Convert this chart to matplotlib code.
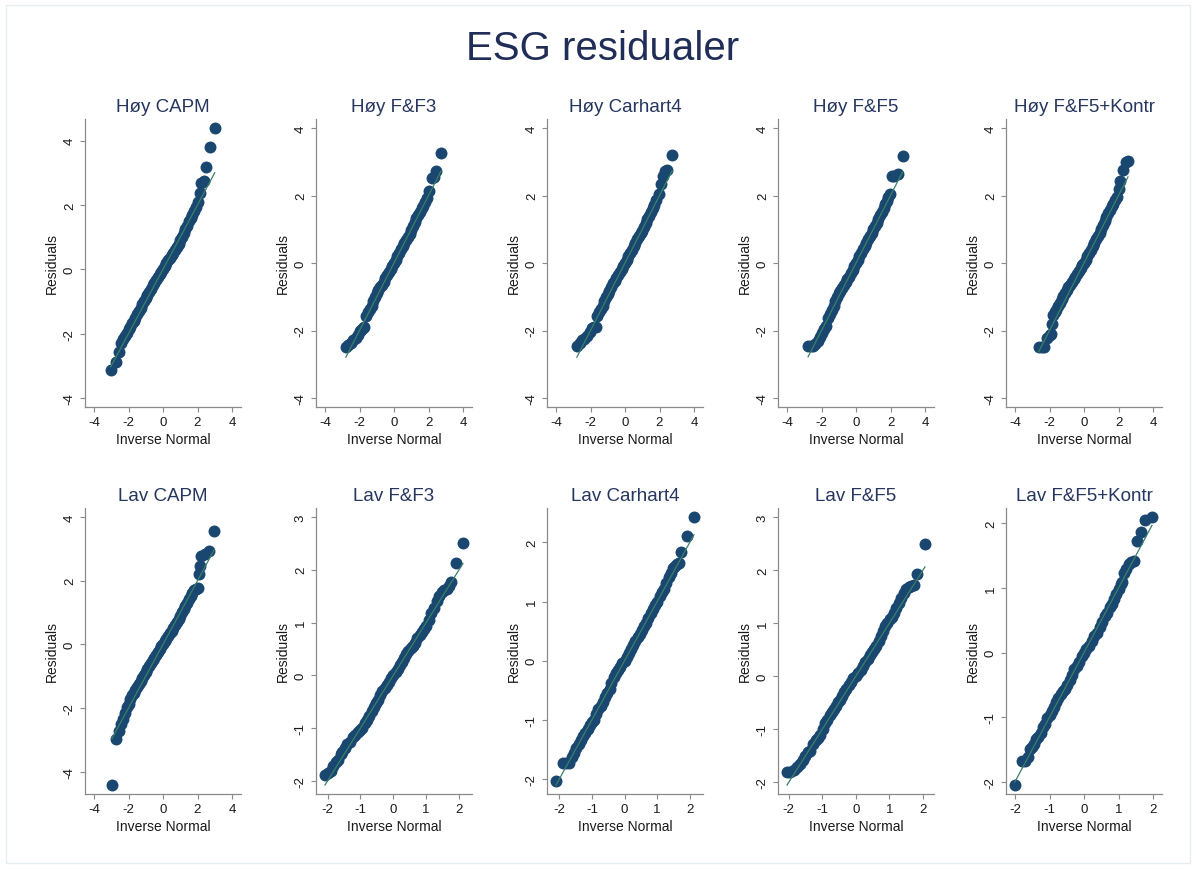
import matplotlib
matplotlib.use("Agg")
import matplotlib.pyplot as plt
from matplotlib.patches import Rectangle

plt.rcParams['font.family'] = ['Liberation Sans', 'DejaVu Sans']
plt.rcParams['axes.unicode_minus'] = False

main_title = "ESG residualer"
titles = ["Høy CAPM", "Høy F&F3", "Høy Carhart4", "Høy F&F5", "Høy F&F5+Kontr",
          "Lav CAPM", "Lav F&F3", "Lav Carhart4", "Lav F&F5", "Lav F&F5+Kontr"]

# inverse normal (x) and residuals (y)
hoy_capm_x = [-3.03, -2.71, -2.57, -2.42,
              -2.3, -2.2, -2.1, -2.0, -1.9, -1.8, -1.7, -1.6, -1.5, -1.4, -1.3, -1.2,
              -1.1, -1.0, -0.9, -0.8, -0.7, -0.6, -0.5, -0.4, -0.3, -0.2, -0.1,
              0.0, 0.1, 0.2, 0.3, 0.4, 0.5, 0.6, 0.7, 0.8, 0.9, 1.0, 1.1, 1.2, 1.3,
              1.4, 1.5, 1.6, 1.7, 1.8,
              1.93, 2.05, 2.13, 2.18, 2.36, 2.51, 2.71, 3.0]
hoy_capm_y = [-3.12, -2.88, -2.57, -2.28,
              -2.18, -2.08, -1.98, -1.86, -1.78, -1.68, -1.6, -1.5, -1.4, -1.3, -1.2, -1.08,
              -0.98, -0.88, -0.8, -0.7, -0.6, -0.5, -0.42, -0.34, -0.25, -0.15, -0.07,
              0.02, 0.1, 0.2, 0.28, 0.36, 0.43, 0.5, 0.6, 0.68, 0.8, 0.9, 1.0, 1.12, 1.24,
              1.36, 1.5, 1.6, 1.7, 1.8,
              1.94, 2.1, 2.38, 2.67, 2.75, 3.18, 3.79, 4.39]

hoy_ff3_x = [-2.79, -2.65, -2.5, -2.35, -2.2, -2.1, -2.0, -1.9, -1.8, -1.72, -1.62,
             -1.5, -1.4, -1.3, -1.2, -1.1, -1.0, -0.9, -0.8, -0.7, -0.6, -0.5, -0.4,
             -0.3, -0.2, -0.1,
             0.0, 0.1, 0.2, 0.3, 0.4, 0.5, 0.6, 0.7, 0.8, 0.9, 1.0, 1.1, 1.2, 1.3,
             1.4, 1.5, 1.6, 1.7, 1.8,
             1.89, 2.03, 2.19, 2.3, 2.44, 2.73]
hoy_ff3_y = [-2.49, -2.42, -2.36, -2.28, -2.21, -2.12, -2.02, -1.98, -1.92, -1.9, -1.57,
             -1.45, -1.35, -1.26, -1.14, -1.02, -0.9, -0.8, -0.72, -0.66, -0.55, -0.45, -0.36,
             -0.28, -0.18, -0.08,
             0.0, 0.1, 0.2, 0.3, 0.42, 0.5, 0.6, 0.68, 0.78, 0.86, 0.98, 1.1, 1.22, 1.32,
             1.42, 1.52, 1.62, 1.7, 1.8,
             1.92, 2.12, 2.51, 2.55, 2.74, 3.27]

hoy_car4_x = [-2.79, -2.62, -2.48, -2.35, -2.2, -2.05, -1.89, -1.78, -1.66, -1.6,
              -1.5, -1.4, -1.3, -1.2, -1.1, -1.0, -0.9, -0.8, -0.7, -0.6, -0.5, -0.4,
              -0.3, -0.2, -0.1,
              0.0, 0.1, 0.2, 0.3, 0.4, 0.5, 0.6, 0.7, 0.8, 0.9, 1.0, 1.1, 1.2, 1.3,
              1.4, 1.5, 1.6, 1.7, 1.8,
              1.95, 2.09, 2.2, 2.32, 2.44, 2.73]
hoy_car4_y = [-2.46, -2.36, -2.28, -2.24, -2.17, -2.05, -1.92, -1.9, -1.89, -1.57,
              -1.45, -1.36, -1.26, -1.14, -1.02, -0.92, -0.82, -0.72, -0.6, -0.52, -0.44, -0.36,
              -0.27, -0.18, -0.08,
              0.0, 0.1, 0.2, 0.3, 0.4, 0.51, 0.6, 0.7, 0.8, 0.88, 0.96, 1.08, 1.2, 1.3,
              1.4, 1.52, 1.62, 1.72, 1.86,
              2.05, 2.34, 2.59, 2.72, 2.77, 3.19]

hoy_ff5_x = [-2.78, -2.62, -2.49, -2.35, -2.2, -2.1, -2.0, -1.86, -1.72, -1.62,
             -1.5, -1.4, -1.3, -1.2, -1.1, -1.0, -0.9, -0.8, -0.7, -0.6, -0.5, -0.4,
             -0.3, -0.2, -0.1,
             0.0, 0.1, 0.2, 0.3, 0.4, 0.5, 0.6, 0.7, 0.8, 0.9, 1.0, 1.1, 1.2, 1.3,
             1.4, 1.5, 1.6, 1.7,
             1.77, 1.87, 1.97, 2.06, 2.2, 2.45, 2.7]
hoy_ff5_y = [-2.46, -2.46, -2.46, -2.4, -2.31, -2.2, -2.07, -1.95, -1.87, -1.62,
             -1.5, -1.38, -1.28, -1.14, -1.02, -0.9, -0.82, -0.74, -0.66, -0.56, -0.48, -0.4,
             -0.3, -0.2, -0.1,
             0.0, 0.1, 0.2, 0.3, 0.42, 0.51, 0.6, 0.7, 0.8, 0.9, 1.0, 1.1, 1.2, 1.3,
             1.42, 1.52, 1.62, 1.74,
             1.85, 1.95, 2.05, 2.57, 2.59, 2.64, 3.17]

hoy_ff5k_x = [-2.63, -2.45, -2.29, -2.15, -2.0, -1.9, -1.87, -1.81,
              -1.7, -1.6, -1.5, -1.4, -1.3, -1.2, -1.1, -1.0, -0.9, -0.8, -0.7, -0.6,
              -0.5, -0.4, -0.3, -0.2, -0.1,
              0.0, 0.1, 0.2, 0.3, 0.4, 0.5, 0.6, 0.7, 0.8, 0.9, 1.0, 1.1, 1.2, 1.3,
              1.4, 1.5, 1.6, 1.7, 1.8,
              1.9, 2.0, 2.1, 2.27, 2.45, 2.55]
hoy_ff5k_y = [-2.48, -2.48, -2.48, -2.21, -2.14, -2.11, -1.82, -1.55,
              -1.45, -1.38, -1.28, -1.18, -1.08, -0.98, -0.9, -0.8, -0.7, -0.64, -0.56, -0.48,
              -0.4, -0.32, -0.24, -0.16, -0.06,
              0.0, 0.1, 0.2, 0.3, 0.4, 0.51, 0.6, 0.7, 0.8, 0.9, 1.0, 1.12, 1.24, 1.36,
              1.48, 1.58, 1.68, 1.76, 1.86,
              1.95, 2.19, 2.44, 2.77, 3.0, 3.01]

lav_capm_x = [-2.96, -2.71, -2.57, -2.42, -2.3, -2.2,
              -2.1, -2.0, -1.9, -1.8, -1.7, -1.6, -1.5, -1.4, -1.3, -1.2, -1.1, -1.0,
              -0.9, -0.8, -0.7, -0.6, -0.5, -0.4, -0.3, -0.2, -0.1,
              0.0, 0.1, 0.2, 0.3, 0.4, 0.5, 0.6, 0.7, 0.8, 0.9, 1.0, 1.1, 1.2, 1.3,
              1.4, 1.5, 1.6, 1.7, 1.8,
              1.9, 2.0, 2.06, 2.13, 2.22, 2.42, 2.67, 2.96]
lav_capm_y = [-4.42, -2.98, -2.71, -2.5, -2.35, -2.15,
              -1.98, -1.86, -1.72, -1.6, -1.52, -1.42, -1.34, -1.26, -1.16, -1.06, -0.96, -0.88,
              -0.78, -0.68, -0.6, -0.5, -0.42, -0.32, -0.24, -0.14, -0.06,
              0.02, 0.1, 0.18, 0.26, 0.34, 0.42, 0.5, 0.6, 0.7, 0.8, 0.9, 1.0, 1.1, 1.2,
              1.3, 1.42, 1.52, 1.62, 1.72,
              1.74, 1.78, 2.2, 2.46, 2.78, 2.83, 2.93, 3.55]

lav_ff3_x = [-2.08, -1.98, -1.91, -1.84, -1.76, -1.68, -1.6, -1.55, -1.48, -1.4,
             -1.32, -1.24, -1.16, -1.08, -1.0, -0.94, -0.87, -0.8, -0.73, -0.66,
             -0.6, -0.53, -0.46, -0.4, -0.33, -0.26, -0.2, -0.13, -0.07,
             0.0, 0.07, 0.13, 0.2, 0.26, 0.33, 0.4, 0.46, 0.53, 0.6, 0.66,
             0.73, 0.8, 0.87, 0.94, 1.0, 1.08, 1.16, 1.24, 1.32, 1.4,
             1.48, 1.55, 1.62, 1.7, 1.77, 1.92, 2.12]
lav_ff3_y = [-1.89, -1.85, -1.81, -1.72, -1.65, -1.6, -1.5, -1.46, -1.38, -1.3,
             -1.26, -1.17, -1.14, -1.08, -1.04, -1.0, -0.9, -0.84, -0.78, -0.68,
             -0.6, -0.53, -0.46, -0.38, -0.3, -0.24, -0.18, -0.12, -0.06,
             0.0, 0.06, 0.12, 0.2, 0.26, 0.32, 0.4, 0.46, 0.52, 0.56, 0.62,
             0.7, 0.76, 0.82, 0.88, 0.94, 1.04, 1.18, 1.28, 1.4, 1.5,
             1.58, 1.62, 1.64, 1.7, 1.76, 2.12, 2.51]

lav_car4_x = [-2.1, -1.9, -1.8, -1.69, -1.62, -1.55, -1.48, -1.41, -1.34, -1.27,
              -1.2, -1.13, -1.06, -1.0, -0.93, -0.86, -0.8, -0.73, -0.66, -0.6,
              -0.53, -0.46, -0.4, -0.33, -0.26, -0.2, -0.13, -0.07,
              0.0, 0.07, 0.13, 0.2, 0.26, 0.33, 0.4, 0.46, 0.53, 0.6, 0.66,
              0.73, 0.8, 0.87, 0.93, 1.0, 1.08, 1.15, 1.22, 1.28, 1.35, 1.41,
              1.48, 1.54, 1.6, 1.67, 1.73, 1.92, 2.13]
lav_car4_y = [-2.04, -1.72, -1.72, -1.72, -1.62, -1.56, -1.48, -1.4, -1.34, -1.28,
              -1.22, -1.16, -1.08, -1.04, -1.0, -0.9, -0.82, -0.76, -0.7, -0.62,
              -0.55, -0.48, -0.38, -0.28, -0.2, -0.16, -0.1, -0.04,
              0.0, 0.07, 0.13, 0.2, 0.26, 0.33, 0.4, 0.45, 0.52, 0.58, 0.64,
              0.72, 0.8, 0.87, 0.94, 1.0, 1.1, 1.16, 1.22, 1.32, 1.42, 1.49,
              1.56, 1.61, 1.64, 1.66, 1.84, 2.11, 2.43]

lav_ff5_x = [-2.05, -1.95, -1.85, -1.75, -1.66, -1.58, -1.5, -1.43, -1.36, -1.28,
             -1.2, -1.13, -1.06, -0.98, -0.91, -0.85, -0.78, -0.71, -0.65, -0.59,
             -0.53, -0.46, -0.4, -0.34, -0.28, -0.21, -0.14, -0.07,
             0.0, 0.07, 0.14, 0.21, 0.28, 0.35, 0.42, 0.48, 0.55, 0.61, 0.68,
             0.74, 0.81, 0.88, 0.94, 1.01, 1.08, 1.14, 1.21, 1.28, 1.35, 1.42,
             1.5, 1.57, 1.65, 1.74, 1.83, 2.06]
lav_ff5_y = [-1.8, -1.8, -1.77, -1.72, -1.66, -1.58, -1.5, -1.42, -1.4, -1.28,
             -1.2, -1.16, -1.1, -1.0, -0.88, -0.82, -0.74, -0.68, -0.62, -0.56,
             -0.49, -0.44, -0.38, -0.3, -0.24, -0.16, -0.1, -0.04,
             0.0, 0.06, 0.12, 0.2, 0.26, 0.32, 0.4, 0.46, 0.52, 0.57, 0.66,
             0.76, 0.86, 0.94, 1.0, 1.07, 1.12, 1.2, 1.29, 1.38, 1.48, 1.56,
             1.65, 1.68, 1.7, 1.72, 1.92, 2.49]

lav_ff5k_x = [-2.0, -1.8, -1.71, -1.63, -1.57, -1.5, -1.44, -1.38, -1.32, -1.25,
              -1.19, -1.13, -1.06, -0.99, -0.93, -0.86, -0.8, -0.74, -0.68, -0.62,
              -0.56, -0.49, -0.42, -0.35, -0.28, -0.21, -0.14, -0.07,
              0.0, 0.07, 0.15, 0.22, 0.3, 0.39, 0.46, 0.53, 0.6, 0.68, 0.74,
              0.8, 0.87, 0.93, 1.0, 1.06, 1.11, 1.16, 1.23, 1.3, 1.37, 1.44,
              1.54, 1.64, 1.78, 1.97]
lav_ff5k_y = [-2.05, -1.68, -1.68, -1.62, -1.5, -1.46, -1.42, -1.34, -1.3, -1.24,
              -1.15, -1.1, -1.02, -0.97, -0.9, -0.84, -0.77, -0.7, -0.64, -0.6,
              -0.56, -0.5, -0.42, -0.34, -0.25, -0.2, -0.14, -0.06,
              0.0, 0.06, 0.11, 0.18, 0.26, 0.31, 0.4, 0.48, 0.56, 0.62, 0.7,
              0.76, 0.83, 0.9, 0.98, 1.06, 1.1, 1.24, 1.3, 1.37, 1.4, 1.42,
              1.73, 1.87, 2.05, 2.1]

xs = [hoy_capm_x, hoy_ff3_x, hoy_car4_x, hoy_ff5_x, hoy_ff5k_x,
      lav_capm_x, lav_ff3_x, lav_car4_x, lav_ff5_x, lav_ff5k_x]
ys = [hoy_capm_y, hoy_ff3_y, hoy_car4_y, hoy_ff5_y, hoy_ff5k_y,
      lav_capm_y, lav_ff3_y, lav_car4_y, lav_ff5_y, lav_ff5k_y]

wide_ticks = [-4, -2, 0, 2, 4]
narrow_ticks = [-2, -1, 0, 1, 2]
x_ticks = [wide_ticks] * 6 + [narrow_ticks] * 4
y_ticks = [wide_ticks] * 6 + [[-2, -1, 0, 1, 2, 3], [-2, -1, 0, 1, 2],
                              [-2, -1, 0, 1, 2, 3], [-2, -1, 0, 1, 2]]

navy = '#1a476f'
line_green = '#3a8069'
text_navy = '#26365e'
axis_grey = '#8a8a8a'

W, H = 1196, 870
fig = plt.figure(figsize=(W / 100, H / 100), dpi=100)
fig.patch.set_facecolor('white')
fig.add_artist(Rectangle((6 / W, 6 / H), 1 - 12 / W, 1 - 12 / H, transform=fig.transFigure,
                         fill=False, edgecolor='#e6edf1', linewidth=1))

fig.text(603 / W, 1 - 49.5 / H, main_title, ha='center', va='center',
         fontsize=29, color='#1f2d57')

lefts = [85, 316, 547, 778, 1006]
rows = [(120, 408), (509, 795)]
ax_w = 156
pad_px = 9


def limits(lo, hi, length):
    p = pad_px * (hi - lo) / (length - 2 * pad_px)
    return lo - p, hi + p


for i in range(10):
    r, c = divmod(i, 5)
    top, bot = rows[r]
    ax_h = bot - top
    ax = fig.add_axes([lefts[c] / W, 1 - bot / H, ax_w / W, ax_h / H])
    x, y = xs[i], ys[i]

    ax.plot(x, y, 'o', color=navy, markersize=8.6, markeredgewidth=0, zorder=2)
    ax.plot([min(x), max(x)], [min(x), max(x)], color=line_green, lw=0.9, zorder=3)

    xt, yt = x_ticks[i], y_ticks[i]
    ax.set_xlim(*limits(min(xt[0], min(x)), max(xt[-1], max(x)), ax_w))
    ax.set_ylim(*limits(min(yt[0], min(y), min(x)), max(yt[-1], max(y), max(x)), ax_h))
    ax.set_xticks(xt)
    ax.set_yticks(yt)
    ax.set_xticklabels([str(t) for t in xt])
    ax.set_yticklabels([str(t) for t in yt], rotation=90, va='center')

    for s in ['top', 'right']:
        ax.spines[s].set_visible(False)
    for s in ['left', 'bottom']:
        ax.spines[s].set_color(axis_grey)
        ax.spines[s].set_linewidth(0.9)
    ax.tick_params(length=3.6, width=0.8, color=axis_grey, labelsize=9.5,
                   labelcolor='#1a1a1a')
    ax.tick_params(axis='y', pad=3)
    ax.tick_params(axis='x', pad=3)

    ax.set_title(titles[i], fontsize=13.5, color=text_navy, pad=6)
    ax.set_xlabel('Inverse Normal', fontsize=10, color='#1a1a1a')
    ax.set_ylabel('Residuals', fontsize=10, color='#1a1a1a')
    ax.xaxis.set_label_coords(0.5, -32 / ax_h)
    ax.yaxis.set_label_coords(-33 / ax_w, 0.5)
    ax.xaxis.label.set_va('center')
    ax.yaxis.label.set_va('center')

fig.savefig('out.png', dpi=100, facecolor='white')
